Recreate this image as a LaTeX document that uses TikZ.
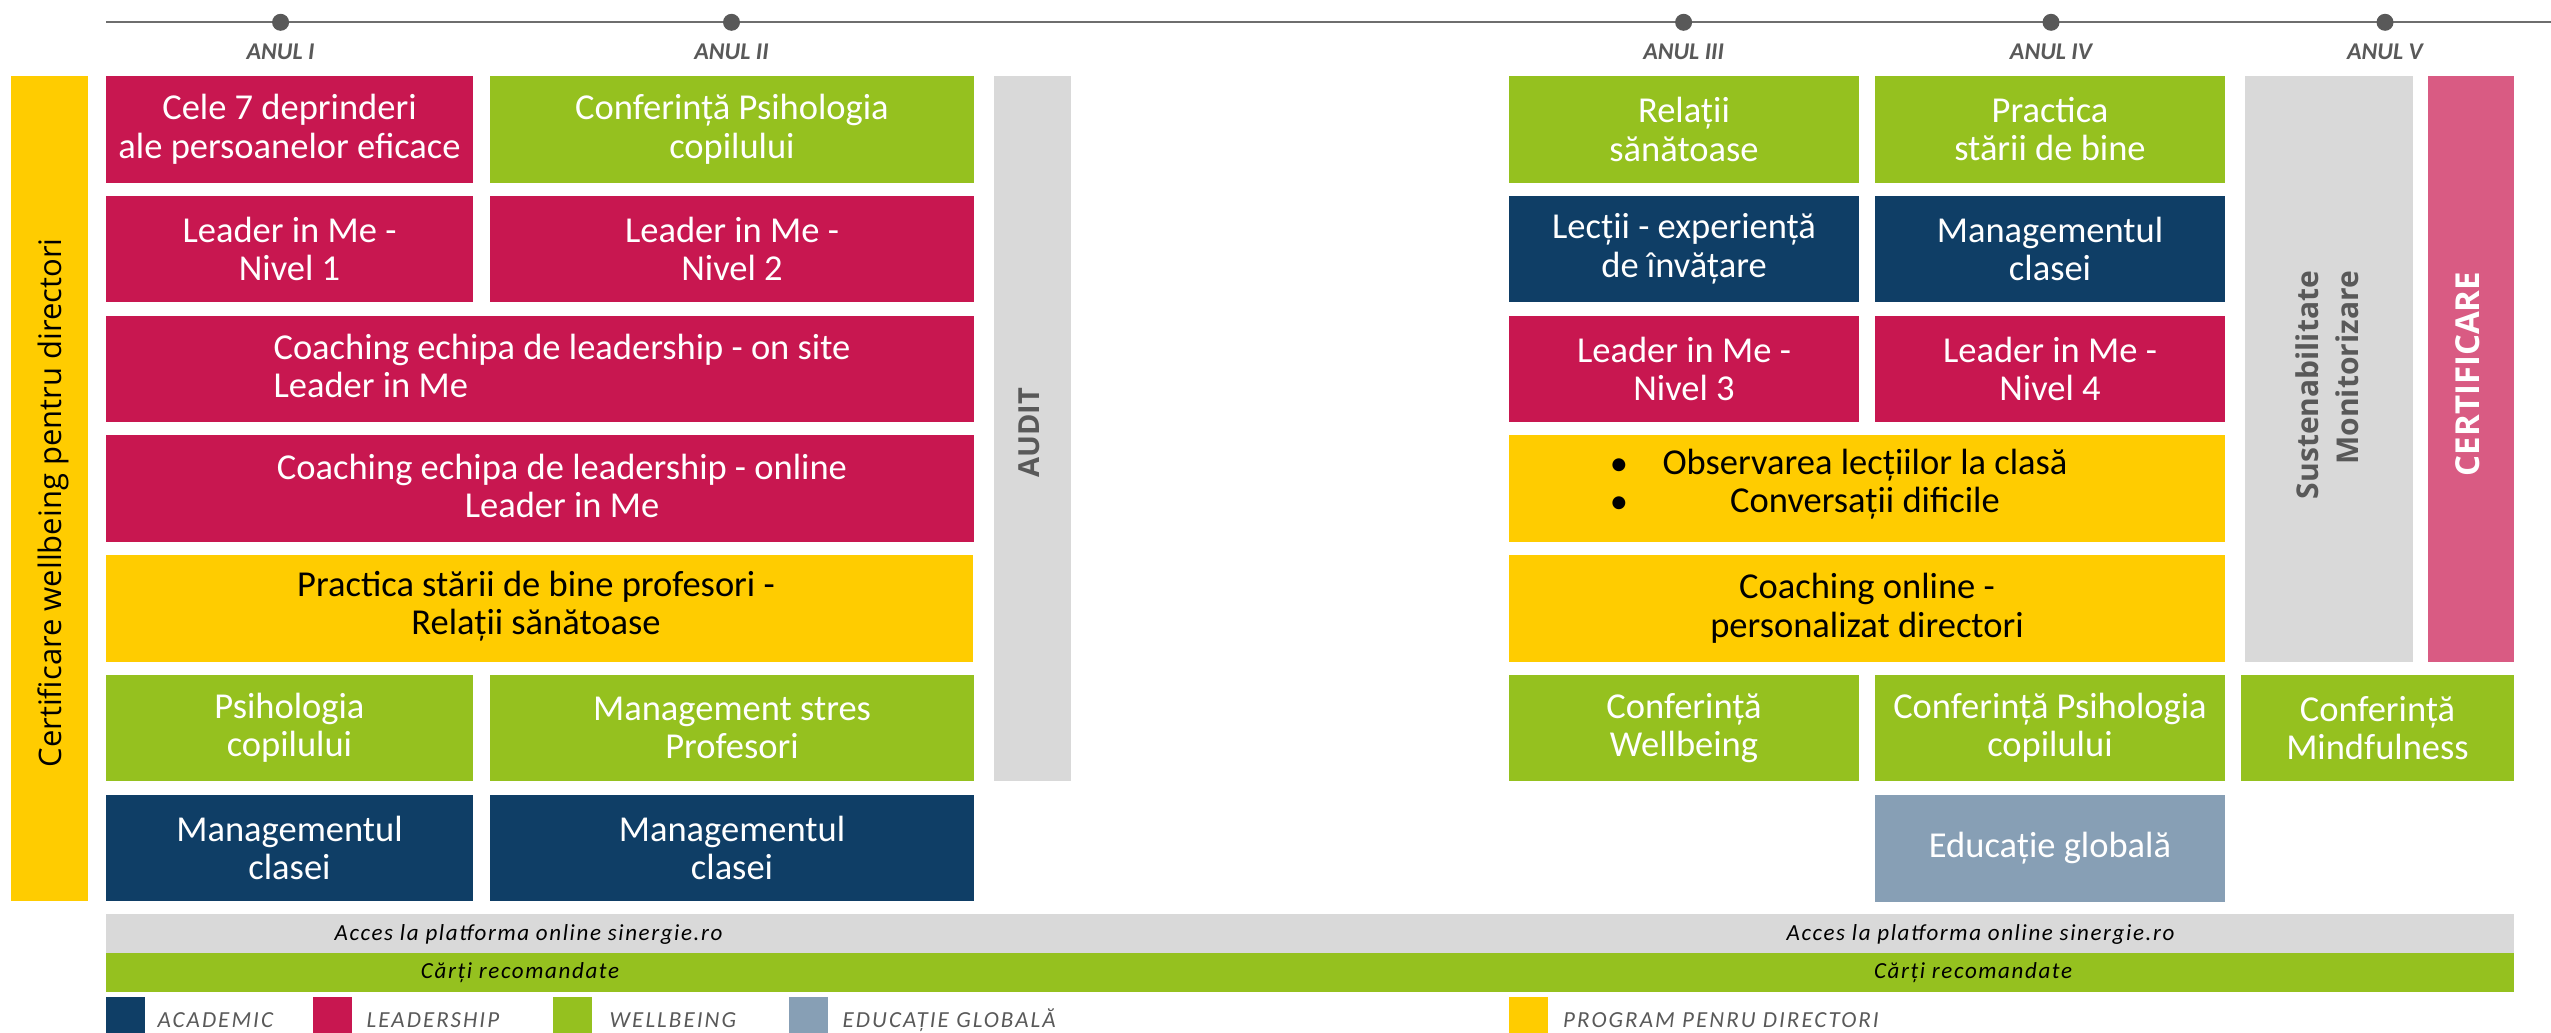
\documentclass[tikz,border=0pt]{standalone}
\usepackage{fontspec}
\setmainfont{Carlito}
\newfontfamily\osans{Open Sans}
\definecolor{lead}{RGB}{200,23,80}
\definecolor{well}{RGB}{149,193,31}
\definecolor{acad}{RGB}{15,62,102}
\definecolor{yel}{RGB}{255,204,0}
\definecolor{lgray}{RGB}{217,217,217}
\definecolor{edu}{RGB}{135,159,181}
\definecolor{pinkc}{RGB}{217,91,131}
\definecolor{dgray}{RGB}{89,89,89}
\definecolor{tline}{RGB}{110,110,110}
\newcommand\boxfont{\fontsize{36.5}{38.5}\selectfont}
\newcommand\legfont{\fontsize{23}{25}\selectfont\itshape\addfontfeature{LetterSpace=9}}
\newcommand\stripfont{\fontsize{23}{25}\selectfont\itshape\addfontfeature{LetterSpace=7}}
% \bx[options]{name}{x1}{y1}{x2}{y2}{text}
\newcommand\bx[7][]{%
  \pgfmathsetmacro\bxw{#5-#3}%
  \pgfmathsetmacro\bxh{#6-#4}%
  \node[box,#1,minimum width=\bxw pt,minimum height=\bxh pt] (#2) at ({(#3+#5)/2},{(#4+#6)/2}) {#7};%
}
\begin{document}
\begin{tikzpicture}[x=1pt,y=-1pt,
  box/.style={inner sep=0pt,outer sep=0pt,align=center,text=white,font=\boxfont},
  boxtext/.style={inner sep=0pt,outer sep=0pt,font=\boxfont},
  dot/.style={circle,fill=dgray,minimum size=17pt,inner sep=0pt},
  tlab/.style={anchor=base,inner sep=0pt,text=dgray,font=\fontsize{24}{26}\selectfont\bfseries\itshape},
  legsq/.style={inner sep=0pt,outer sep=0pt,minimum width=39pt,minimum height=36pt,anchor=north west},
  legtext/.style={anchor=base west,inner sep=0pt,text=dgray,font=\legfont},
  striptext/.style={anchor=base,inner sep=0pt,text=black,font=\stripfont},
  vtext/.style={rotate=90,inner sep=0pt,outer sep=0pt}
]
\useasboundingbox (0,0) rectangle (2551,1033);

% timeline
\coordinate (tls) at (106,22.3);
\coordinate (tle) at (2551,22.3);
\draw[tline,line width=2pt] (tls) -- (tle);
\node[dot] (d1) at (280.6,22.3) {};
\node[dot] (d2) at (731.5,22.3) {};
\node[dot] (d3) at (1683.6,22.3) {};
\node[dot] (d4) at (2051,22.3) {};
\node[dot] (d5) at (2385,22.3) {};
\node[tlab] (a1) at (280.6,59.3) {ANUL I};
\node[tlab] (a2) at (731.5,59.3) {ANUL II};
\node[tlab] (a3) at (1683.6,59.3) {ANUL III};
\node[tlab] (a4) at (2051,59.3) {ANUL IV};
\node[tlab] (a5) at (2385,59.3) {ANUL V};

% left vertical bar
\bx[fill=yel]{ybar}{11}{76}{87.5}{901}{}
\node[vtext,text=black,font=\osans\fontsize{31}{34}\selectfont] (ybar-t) at (53,503) {Certificare wellbeing pentru directori};

% left block
\bx[fill=lead]{c7}{106}{76}{473}{182.5}{Cele 7 deprinderi\\ale persoanelor eficace}
\bx[fill=well]{cps1}{490}{76}{974}{182.5}{Conferință Psihologia\\copilului}
\bx[fill=lead]{lim1}{106}{195.75}{473}{302.25}{Leader in Me -\\Nivel 1}
\bx[fill=lead]{lim2}{490}{195.75}{974}{302.25}{Leader in Me -\\Nivel 2}
\bx[fill=lead]{cos}{106}{315.5}{974}{422}{}
\node[boxtext,text=white,align=left] (cos-t) at (562,366) {Coaching echipa de leadership - on site\\Leader in Me};
\bx[fill=lead]{col}{106}{435.25}{974}{541.75}{}
\node[boxtext,text=white,align=center] (col-t) at (562,486) {Coaching echipa de leadership - online\\Leader in Me};
\bx[fill=yel,text=black]{pprof}{106}{555}{973}{661.5}{}
\node[boxtext,text=black,align=center] (pprof-t) at (536,606) {Practica stării de bine profesori -\\Relații sănătoase};
\bx[fill=well]{psih}{106}{674.75}{473}{781.25}{Psihologia\\copilului}
\bx[fill=well]{mstr}{490}{674.75}{974}{781.25}{Management stres\\Profesori}
\bx[fill=acad]{mc1}{106}{794.5}{473}{901}{Managementul\\clasei}
\bx[fill=acad]{mc2}{490}{794.5}{974}{901}{Managementul\\clasei}

% audit
\bx[fill=lgray]{audit}{994}{76}{1071}{781.25}{}
\node[vtext,text=dgray,font=\osans\bfseries\fontsize{29}{32}\selectfont] (audit-t) at (1029,432.5) {AUDIT};

% right block
\bx[fill=well]{rel}{1509}{76}{1859}{182.5}{Relații\\sănătoase}
\bx[fill=well]{pract}{1875}{76}{2225}{182.5}{Practica\\stării de bine}
\bx[fill=acad]{lect}{1509}{195.75}{1859}{302.25}{Lecții - experiență\\de învățare}
\bx[fill=acad]{mc3}{1875}{195.75}{2225}{302.25}{Managementul\\clasei}
\bx[fill=lead]{lim3}{1509}{315.5}{1859}{422}{Leader in Me -\\Nivel 3}
\bx[fill=lead]{lim4}{1875}{315.5}{2225}{422}{Leader in Me -\\Nivel 4}
\bx[fill=yel]{obs}{1509}{435.25}{2225}{541.75}{}
\node[boxtext,text=black,align=center] (obs-t) at (1865,484) {Observarea lecțiilor la clasă\\Conversații dificile};
\node[boxtext,text=black,anchor=base] (bul1) at (1619,475) {•};
\node[boxtext,text=black,anchor=base] (bul2) at (1619,513) {•};
\bx[fill=yel,text=black]{cdir}{1509}{555}{2225}{661.5}{Coaching online -\\personalizat directori}
\bx[fill=well]{cwell}{1509}{674.75}{1859}{781.25}{Conferință\\Wellbeing}
\bx[fill=well]{cps2}{1875}{674.75}{2225}{781.25}{Conferință Psihologia\\copilului}
\bx[fill=well]{cmind}{2241}{674.75}{2514}{781.25}{Conferință\\Mindfulness}
\bx[fill=edu]{edg}{1875}{795}{2225}{901.5}{Educație globală}

% sustenabilitate / certificare
\bx[fill=lgray]{sust}{2245}{76}{2413}{661.5}{}
\node[vtext,anchor=east,align=right,text=dgray,font=\osans\bfseries\fontsize{30}{40}\selectfont] (sust-t) at (2327,271) {Sustenabilitate\\Monitorizare};
\bx[fill=pinkc]{cert}{2428}{76}{2514}{661.5}{}
\node[vtext,text=white,font=\osans\bfseries\fontsize{33}{36}\selectfont] (cert-t) at (2467.5,374) {CERTIFICARE};

% strips
\bx[fill=lgray]{sgray}{106}{914}{2514}{952.7}{}
\bx[fill=well]{sgreen}{106}{952.7}{2514}{991.7}{}
\node[striptext] (acc1) at (528.6,940.5) {Acces la platforma online sinergie.ro};
\node[striptext] (acc2) at (1980.5,940.5) {Acces la platforma online sinergie.ro};
\node[striptext] (car1) at (520,978.8) {Cărți recomandate};
\node[striptext] (car2) at (1973,978.8) {Cărți recomandate};

% legend
\node[legsq,fill=acad] (l1) at (106,997) {};
\node[legtext] (l1t) at (157.5,1027.5) {ACADEMIC};
\node[legsq,fill=lead] (l2) at (313.4,997) {};
\node[legtext] (l2t) at (366.5,1027.5) {LEADERSHIP};
\node[legsq,fill=well] (l3) at (553,997) {};
\node[legtext] (l3t) at (609.5,1027.5) {WELLBEING};
\node[legsq,fill=edu] (l4) at (789.4,997) {};
\node[legtext] (l4t) at (842.5,1027.5) {EDUCAȚIE GLOBALĂ};
\node[legsq,fill=yel] (l5) at (1509,997) {};
\node[legtext] (l5t) at (1563,1027.5) {PROGRAM PENRU DIRECTORI};
\end{tikzpicture}
\end{document}
